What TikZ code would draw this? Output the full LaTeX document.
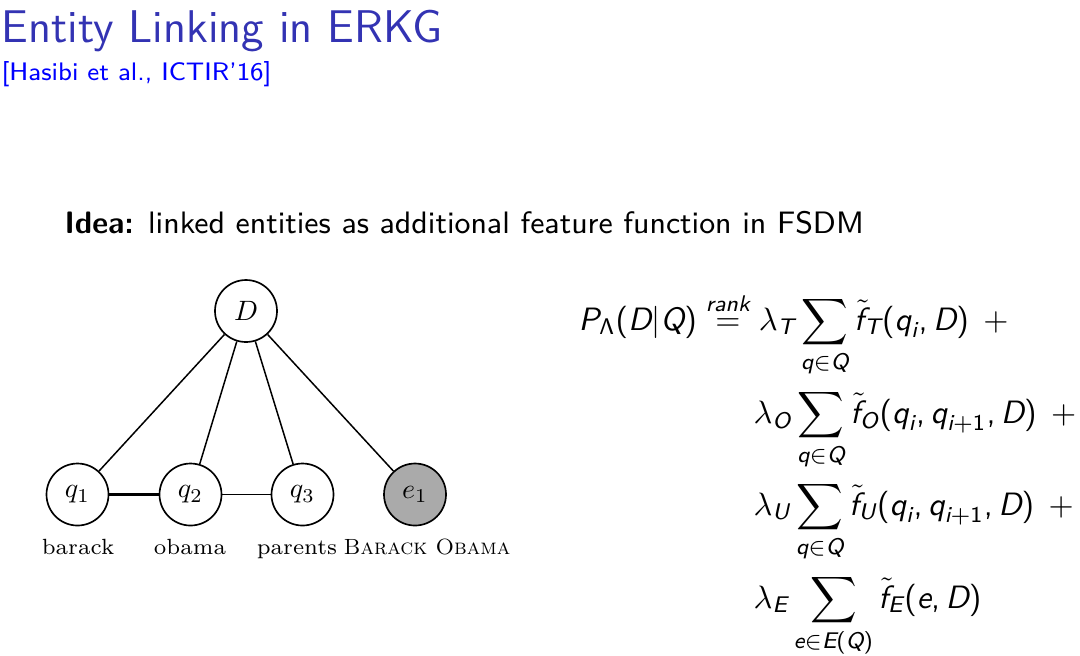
\documentclass[tikz,border=0pt]{standalone}
\usepackage{amsmath}
\usepackage{graphicx}
\definecolor{struct}{RGB}{51,51,179}
\definecolor{efill}{RGB}{170,170,170}
\newcommand\mi[1]{\text{\sffamily\slshape #1}}
\newcommand\mup[1]{\text{\sffamily #1}}
\newcommand\lp{\mathopen{\mup{(}}}
\newcommand\rp{\mathclose{\mup{)}}}
\newcommand\cm{\mathpunct{\mup{,}}}
\newcommand\ft{\tilde{\mi{f}\kern0.22em}\kern-0.22em}
\newcommand\pl{\mskip 4mu +{}}
\tikzset{
  var/.style={circle, draw, line width=0.5pt, minimum size=18.6pt, inner sep=0pt},
  obs/.style={var, fill=efill},
  lab/.style={anchor=base, inner sep=0pt, font=\fontsize{6.6}{8}\selectfont},
  edge/.style={line width=0.45pt},
  eq/.style={anchor=base west, inner sep=0pt, scale=0.97, transform shape}
}
\begin{document}
\begin{tikzpicture}[x=0.3pt, y=-0.3pt]
\useasboundingbox (0,0) rectangle (1080,655);
% title
\node[anchor=base west, inner sep=0pt, text=struct, font=\fontsize{13.75}{17}\selectfont\sffamily] (title) at (1,42) {Entity Linking in ERKG};
\node[anchor=base west, inner sep=0pt, text=blue, font=\fontsize{7.6}{9}\selectfont\sffamily] (cite) at (1,80) {[Hasibi et al., ICTIR'16]};
\node[anchor=base west, inner sep=0pt, font=\fontsize{9.3}{11}\selectfont\sffamily] (idea) at (64,233) {\textbf{Idea:} linked entities as additional feature function in FSDM};
% graph
\node[var] (D) at (246,311) {\scalebox{0.84}{$D$}};
\node[var] (q1) at (77.5,494.5) {\scalebox{0.84}{$q_1$}};
\node[var] (q2) at (190.5,494.5) {\scalebox{0.84}{$q_2$}};
\node[var] (q3) at (302.5,494.5) {\scalebox{0.84}{$q_3$}};
\node[obs] (e1) at (415,494.5) {\scalebox{0.84}{$e_1$}};
\draw[edge] (D) -- (q1);
\draw[edge] (D) -- (q2);
\draw[edge] (D) -- (q3);
\draw[edge] (D) -- (e1);
\draw[line width=0.75pt] (q1) -- (q2);
\draw[edge] (q2) -- (q3);
\node[lab] (l1) at (78,554) {barack};
\node[lab] (l2) at (190,554) {obama};
\node[lab] (l3) at (297,554) {parents};
\node[lab] (l4) at (427,554) {\textsc{Barack Obama}};
% formula
\node[eq] (f1) at (578,330) {$\displaystyle \mi{P}_{\mathsf{\Lambda}}\lp\mi{D}|\mi{Q}\rp \overset{\mi{rank}}{=} \lambda_{\mi{T}} \sum\limits_{\mi{q}\in\mi{Q}} \ft_{\mi{T}}\lp\mi{q}_{\mi{i}}\cm\mi{D}\rp \pl$};
\node[eq] (f2) at (753,423) {$\displaystyle \lambda_{\mi{O}} \sum\limits_{\mi{q}\in\mi{Q}} \ft_{\mi{O}}\lp\mi{q}_{\mi{i}}\cm\mi{q}_{\mi{i}+\mup{1}}\cm\mi{D}\rp \pl$};
\node[eq] (f3) at (753,515) {$\displaystyle \lambda_{\mi{U}} \sum\limits_{\mi{q}\in\mi{Q}} \ft_{\mi{U}}\lp\mi{q}_{\mi{i}}\cm\mi{q}_{\mi{i}+\mup{1}}\cm\mi{D}\rp \pl$};
\node[eq] (f4) at (753,608) {$\displaystyle \lambda_{\mi{E}} \sum\limits_{\mi{e}\in\mi{E}\lp\mi{Q}\rp} \ft_{\mi{E}}\lp\mi{e}\cm\mi{D}\rp$};
\end{tikzpicture}
\end{document}
